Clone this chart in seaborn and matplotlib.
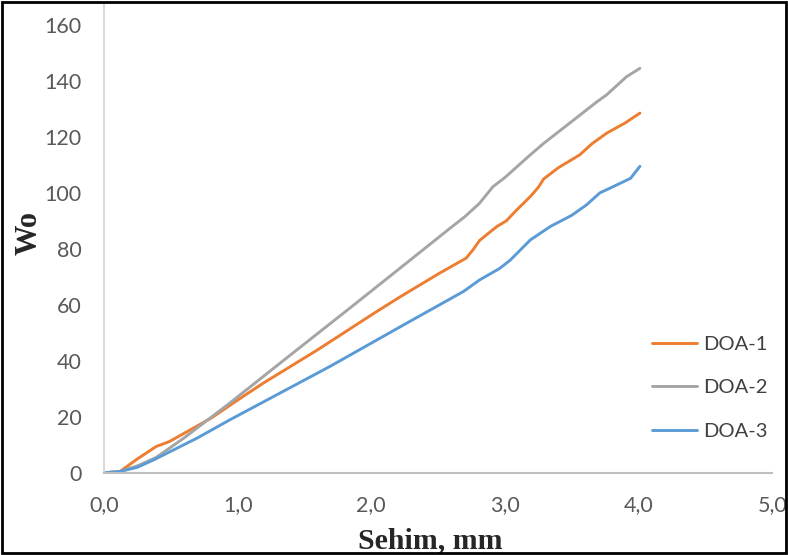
import matplotlib
matplotlib.use('Agg')
import matplotlib.pyplot as plt
import pandas as pd
import seaborn as sns
from matplotlib.patches import Rectangle

# DOA-1 (turuncu)
doa1_x = [0, 0.12, 0.25, 0.39, 0.49, 0.8, 1.0, 1.19, 1.6, 2.02, 2.22, 2.51, 2.71, 2.76,
          2.81, 2.94, 3.01, 3.09, 3.19, 3.25, 3.29, 3.4, 3.56, 3.65, 3.76, 3.9, 4.01]
doa1_y = [0, 0.5, 5, 9.4, 11.2, 19.5, 26, 32, 44, 57, 63, 71.3, 76.7, 79.6,
          83, 88, 90, 94, 98.7, 102, 105, 109, 113.6, 117.5, 121.3, 125, 128.5]

# DOA-2 (gri)
doa2_x = [0, 0.12, 0.25, 0.39, 0.6, 0.94, 1.4, 1.87, 2.22, 2.59, 2.7, 2.81, 2.91,
          3.0, 3.19, 3.29, 3.5, 3.69, 3.76, 3.91, 4.01]
doa2_y = [0, 0.5, 2.5, 5.5, 12.5, 24.9, 42.3, 60, 73.3, 87.4, 91.5, 96.3, 102.2,
          105.5, 113.6, 117.7, 125.5, 132.6, 135, 141.5, 144.5]

# DOA-3 (mavi)
doa3_x = [0, 0.12, 0.25, 0.37, 0.7, 0.94, 1.69, 2.21, 2.69, 2.81, 2.96, 3.04,
          3.19, 3.34, 3.5, 3.61, 3.71, 3.8, 3.94, 4.01]
doa3_y = [0, 0.5, 2, 4.6, 12.5, 18.9, 38, 52, 64.8, 68.9, 73, 76,
          83.2, 88, 92, 95.7, 100, 102, 105.2, 109.5]

labels = ['DOA-1', 'DOA-2', 'DOA-3']
colors = ['#ED7D31', '#A5A5A5', '#5B9BD5']
x_ticks = [0, 1, 2, 3, 4, 5]
x_ticklabels = ['0,0', '1,0', '2,0', '3,0', '4,0', '5,0']
y_ticks = [0, 20, 40, 60, 80, 100, 120, 140, 160]

df = pd.concat([
    pd.DataFrame({'x': doa1_x, 'y': doa1_y, 'seri': labels[0]}),
    pd.DataFrame({'x': doa2_x, 'y': doa2_y, 'seri': labels[1]}),
    pd.DataFrame({'x': doa3_x, 'y': doa3_y, 'seri': labels[2]}),
], ignore_index=True)

sns.set_style('white')
plt.rcParams['font.family'] = ['Lato', 'DejaVu Sans']

fig = plt.figure(figsize=(7.88, 5.55), dpi=100)
ax = fig.add_axes([0.132, 0.148, 0.848, 0.847])

sns.lineplot(data=df, x='x', y='y', hue='seri', palette=dict(zip(labels, colors)),
             sort=False, estimator=None, linewidth=2.1, ax=ax)

ax.set_xlim(0, 5)
ax.set_ylim(0, 167.9)
ax.set_xticks(x_ticks)
ax.set_xticklabels(x_ticklabels)
ax.set_yticks(y_ticks)
ax.tick_params(axis='both', length=0, labelsize=15.5, colors='#595959')
ax.tick_params(axis='x', pad=16)
ax.tick_params(axis='y', pad=16)

for side in ['top', 'right']:
    ax.spines[side].set_visible(False)
ax.spines['left'].set_color('#d9d9d9')
ax.spines['bottom'].set_color('#bfbfbf')
ax.spines['left'].set_linewidth(1.5)
ax.spines['bottom'].set_linewidth(1.5)

ax.set_xlabel('Sehim, mm', family='Liberation Serif', fontweight='bold', fontsize=21.5)
ax.set_ylabel('Wo', family='Liberation Serif', fontweight='bold', fontsize=22)
ax.xaxis.set_label_coords(0.488, -0.115)
ax.yaxis.set_label_coords(-0.09, 0.51)

leg = ax.legend(loc='center left', bbox_to_anchor=(0.808, 0.181), frameon=False,
                borderaxespad=0, fontsize=14.5, handlelength=2.24,
                handletextpad=0.3, labelspacing=1.3)
for t in leg.get_texts():
    t.set_color('#404040')

fig.patches.append(Rectangle((0.003, 0.004), 0.994, 0.992, transform=fig.transFigure,
                             fill=False, edgecolor='black', linewidth=2))

fig.savefig('out.png', dpi=100)
